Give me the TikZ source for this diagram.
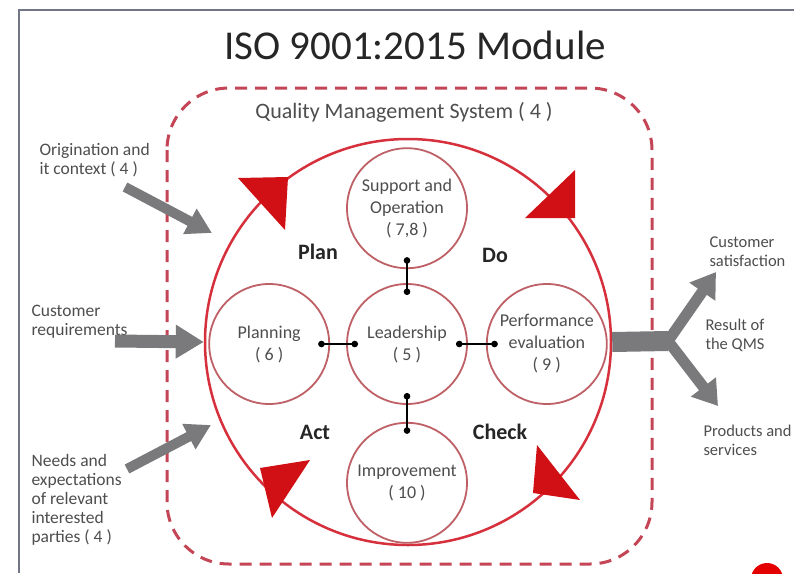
\documentclass[tikz,border=0pt]{standalone}
\usepackage{fontspec}
\setmainfont{Carlito}
\usepackage{xcolor}
\usepackage{tikz}
\usetikzlibrary{arrows.meta,calc,positioning}
\definecolor{qmsred}{RGB}{196,70,86}
\definecolor{loopred}{RGB}{214,48,60}
\definecolor{headred}{RGB}{208,16,20}
\definecolor{ringred}{RGB}{190,96,102}
\definecolor{arrowgray}{RGB}{122,122,124}
\definecolor{textgray}{RGB}{78,78,78}
\definecolor{framegray}{RGB}{112,118,134}
\tikzstyle{qmsbox} = [draw=qmsred, line width=3pt, dash pattern=on 12pt off 8pt,
    rounded corners=62pt]
\tikzstyle{stage} = [circle, draw=ringred, line width=1.8pt, minimum size=120pt,
    inner sep=0pt, align=center, text=textgray, font=\fontsize{18}{22}\selectfont]
\tikzstyle{phase} = [text=black!85, font=\bfseries\fontsize{22}{24}\selectfont]
\tikzstyle{side} = [anchor=west, align=left, text=textgray, font=\fontsize{17.5}{19}\selectfont]
\tikzstyle{link} = [line width=2pt, {Circle[length=6.5pt]}-{Circle[length=6.5pt]},
    shorten <=49pt, shorten >=49pt]
\tikzstyle{inarrow} = [draw=arrowgray, line width=10pt, -{Triangle[length=25pt,width=27pt]}]
\tikzstyle{outarrow} = [draw=arrowgray, line width=11pt, line join=round,
    {Triangle[length=24pt,width=30pt]}-{Triangle[length=24pt,width=30pt]}]

\begin{document}
\begin{tikzpicture}[x=1pt,y=-1pt]
\useasboundingbox (0,0) rectangle (794,573);
\fill[white] (0,0) rectangle (794,573);
\draw[framegray, line width=2pt] (19,573) -- (19,10) -- (794,10);
\node [text=black!85, font=\fontsize{41}{44}\selectfont] (title) at (415,45) {ISO 9001:2015 Module};
\draw[qmsbox] (167,88) rectangle (652,564);
\node [text=textgray, font=\fontsize{22}{24}\selectfont] (qms) at (404,112) {Quality Management System ( 4 )};

\node [circle, draw=loopred, line width=2.5pt, minimum size=406pt, inner sep=0pt] (loop) at (408,342) {};
\foreach \ax/\ay/\bx/\by/\cx/\cy in {288/177/238/178/285/230, 575/218/525/218/575/170,
    533/493/537/445/580/500, 260/468/310/460/272/518}
  \fill[headred] (\ax,\ay) -- (\bx,\by) -- (\cx,\cy) -- cycle;

\node [stage] (lead) at (407,344) {Leadership\\( 5 )};
\node [stage, above=14pt of lead] (supp) {Support and\\Operation\\( 7,8 )};
\node [stage, left=16pt of lead] (planning) {Planning\\( 6 )};
\node [stage, right=18pt of lead] (perf) {Performance\\evaluation\\( 9 )};
\node [stage, below=17pt of lead] (impr) {Improvement\\( 10 )};
\foreach \a in {supp, planning, perf, impr}
  \draw[link] (lead.center) -- (\a.center);

\node [phase] (plan) at (318,252) {Plan};
\node [phase] (do) at (495,255) {Do};
\node [phase] (act) at (315,432) {Act};
\node [phase] (check) at (500,432) {Check};

\node [side] (ctx) at (36,160) {Origination and\\it context ( 4 )};
\node [side] (req) at (28,322) {Customer\\requirements};
\node [side] (needs) at (28,500) {Needs and\\expectations\\of relevant\\interested\\parties ( 4 )};
\coordinate (ctxtail) at (125,187);
\coordinate (ctxtip) at (212,233);
\coordinate (reqtail) at (115,341);
\coordinate (needstail) at (127,469);
\coordinate (needstip) at (211,425);
\draw[inarrow] (ctxtail) -- (ctxtip);
\draw[inarrow, line width=13pt, -{Triangle[length=28pt,width=32pt]}] (reqtail) -- (loop.west);
\draw[inarrow] (needstail) -- (needstip);

\node [side, font=\fontsize{16.5}{19}\selectfont] (sat) at (706,252) {Customer\\satisfaction};
\node [side, font=\fontsize{16.5}{19}\selectfont] (res) at (702,335) {Result of\\the QMS};
\node [side, font=\fontsize{16.5}{19}\selectfont] (prod) at (700,440) {Products and\\services};
\coordinate (fork) at (668,341);
\coordinate (sattip) at (716,272);
\coordinate (prodtip) at (718,406);
\draw[arrowgray, line width=20pt] (loop.east) -- (fork);
\draw[outarrow] (sattip) -- (fork) -- (prodtip);

\fill[red!90!black] (767,579) circle (16pt);
\end{tikzpicture}
\end{document}
